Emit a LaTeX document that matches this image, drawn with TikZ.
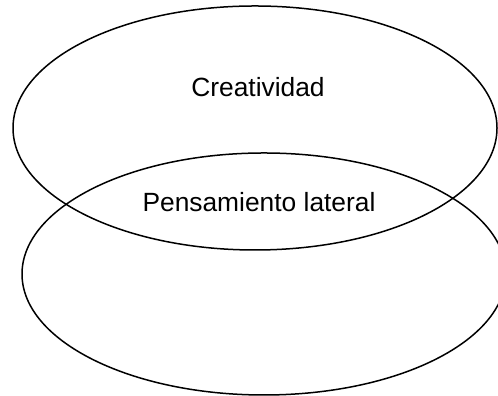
\documentclass[tikz,border=0pt]{standalone}
\usepackage{fontspec}
\setmainfont{Liberation Sans}
\begin{document}
\begin{tikzpicture}[every node/.style={inner sep=0pt, font=\fontsize{15}{18}\selectfont}]
				\useasboundingbox (0,0) rectangle (9.96,7.92);
				\clip (0,0) rectangle (9.96,7.92);
				\draw[line width=0.3mm] (5.10,5.36) ellipse (4.84 and 2.44);
				\draw[line width=0.3mm] (5.28,2.44) ellipse (4.84 and 2.42);

				\node[anchor=base] (creatividad) at (5.16,5.98) {Creatividad};
				\node[anchor=base] (pensamiento) at (5.18,3.68) {Pensamiento lateral};
			\end{tikzpicture}
\end{document}
